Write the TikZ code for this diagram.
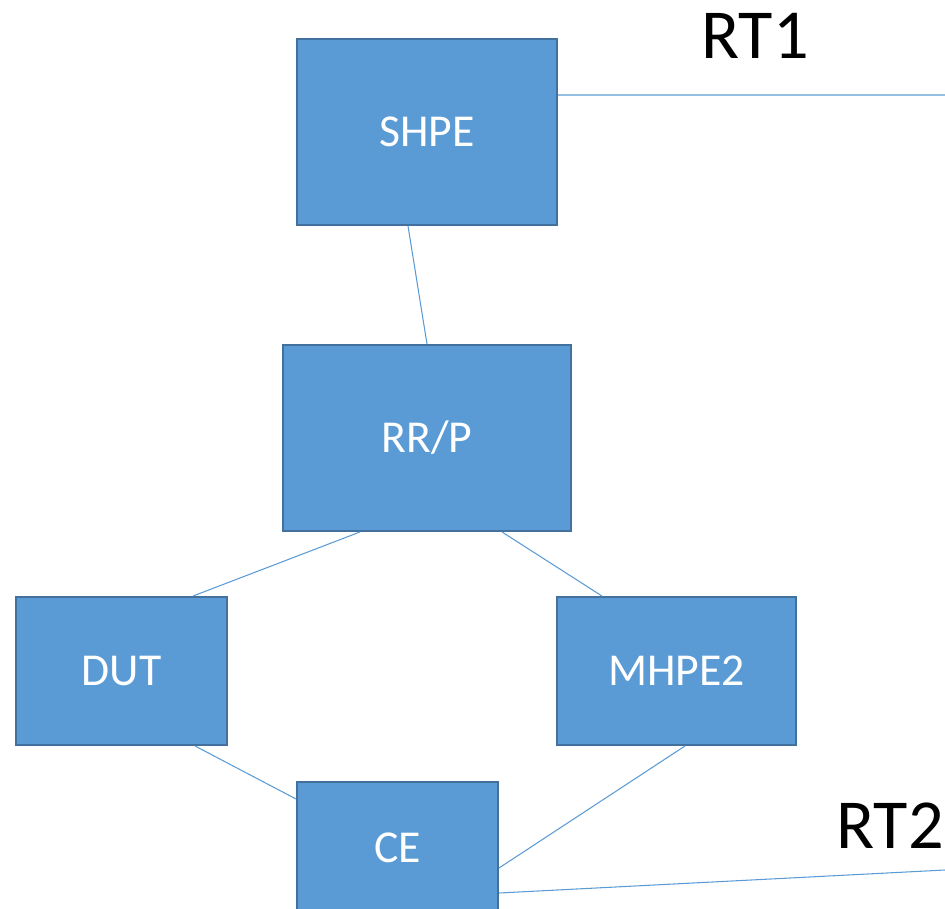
\documentclass[tikz,border=0pt]{standalone}
\usepackage{fontspec}
\setmainfont{Carlito}
\usetikzlibrary{arrows}
\definecolor{boxfill}{HTML}{5B9BD5}
\definecolor{boxline}{HTML}{41719C}

\begin{document}
\begin{tikzpicture}[x=0.02cm,y=-0.02cm,
    box/.style={shape=rectangle,draw=boxline,fill=boxfill,line width=1.1pt,text=white,inner sep=0pt,font=\fontsize{26}{30}\selectfont},
    link/.style={draw=boxfill,line width=0.6pt},
    rt/.style={font=\fontsize{40}{46}\selectfont}]
                \clip (0,0) rectangle (945,908);
                \node[box,minimum width=260*0.02cm,minimum height=186*0.02cm](SHPE)at(427, 132){SHPE};
                \node[box,minimum width=288*0.02cm,minimum height=186*0.02cm](RRP)at(427, 438){RR/P};
                \node[box,minimum width=211*0.02cm,minimum height=148*0.02cm](DUT)at(121.5, 671){DUT};
                \node[box,minimum width=239*0.02cm,minimum height=148*0.02cm](MHPE2)at(676.5, 671){MHPE2};
                \node[box,minimum width=201*0.02cm,minimum height=132*0.02cm](CE)at(397.5, 848){CE};
                \node[rt](RT1)at(755, 36){RT1};
                \node[rt](RT2)at(890, 826){RT2};
                \coordinate(RT1end)at(945, 95);
                \coordinate(RT2end)at(945, 870);
                \path[link]([shift={(0,-37)}]SHPE.east) -- (RT1end)
                ([shift={(-19,0)}]SHPE.south) -- (RRP.north)
                ([shift={(-67,0)}]RRP.south) -- ([shift={(71.5,0)}]DUT.north)
                ([shift={(75,0)}]RRP.south) -- ([shift={(-74.5,0)}]MHPE2.north)
                ([shift={(73.5,0)}]DUT.south) -- ([shift={(0,-49)}]CE.west)
                ([shift={(8.5,0)}]MHPE2.south) -- ([shift={(0,20)}]CE.east);
                \path[link] ([shift={(0,45)}]CE.east) -- (RT2end);
            \end{tikzpicture}
\end{document}
